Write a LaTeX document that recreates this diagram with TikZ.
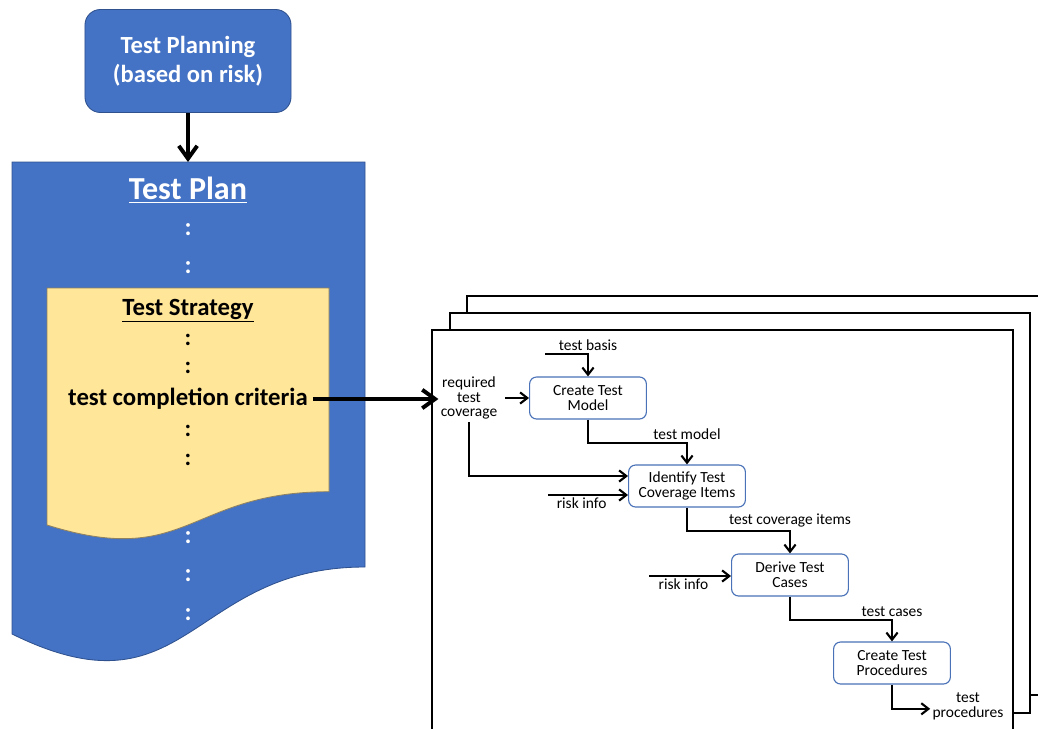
\documentclass[tikz,border=0pt]{standalone}
\usepackage{fontspec}
\setmainfont{Carlito}
\usetikzlibrary{arrows.meta,positioning,calc}
\definecolor{planblue}{HTML}{4472C4}
\definecolor{planedge}{HTML}{2F528F}
\definecolor{strat}{HTML}{FFE699}
\definecolor{stratedge}{HTML}{8F8260}
\definecolor{stepedge}{HTML}{4A72B8}
\newcommand{\PlanTop}{162}
\newcommand{\StratTop}{288}

\begin{document}
\begin{tikzpicture}[
    x=0.025cm, y=-0.025cm,
    bigedge/.style={-{Straight Barb[length=3.2mm,width=4.6mm]}, line width=2.8pt},
    flow/.style={-{Straight Barb[length=1.8mm,width=2.8mm]}, line width=1.5pt},
    frame/.style={draw=black, line width=1.3pt, fill=white},
    planning/.style={draw=planedge, line width=0.6pt, fill=planblue, rounded corners=11pt, minimum width=5.15cm, minimum height=2.575cm, align=center, text=white, font=\bfseries\fontsize{17.5}{20.5}\selectfont},
    stepbox/.style={draw=stepedge, line width=0.8pt, fill=white, rounded corners=5pt, minimum width=2.92cm, minimum height=1.05cm, align=center, font=\fontsize{11}{10.8}\selectfont},
    lbl/.style={font=\fontsize{11}{10.6}\selectfont, inner sep=1.5pt, align=center},
    wdots/.style={text=white, font=\bfseries\fontsize{18}{18}\selectfont, inner sep=0pt},
    bdots/.style={text=black, font=\bfseries\fontsize{17}{17}\selectfont, inner sep=0pt},
  ]
\useasboundingbox (0,0) rectangle (1038,729);
\clip (0,0) rectangle (1038,729);

% --- Planning, and the plan it writes ----------------------------------------
\node[planning] (planning) at (188,61) {Test Planning\\(based on risk)};
\coordinate (plantop) at (188,\PlanTop);
\draw[fill=planblue, draw=planedge, line width=0.6pt]
  (12,\PlanTop) -- (365,\PlanTop) -- (365,567) .. controls (188.5,567) and (188.5,721) .. (12,634) -- cycle;
\draw[bigedge] (planning.south) -- (plantop);
\node[text=white, font=\bfseries\fontsize{22.8}{24}\selectfont] (plantitle) at (188,190) {\underline{Test Plan}};

% --- The strategy inside the plan --------------------------------------------
\draw[fill=strat, draw=stratedge, line width=0.6pt]
  (47,\StratTop) -- (329,\StratTop) -- (329,491.7) .. controls (188,491.7) and (188,569.3) .. (47,525) -- cycle;
\node[font=\bfseries\fontsize{17.6}{19}\selectfont] (strattitle) at (188,311) {\underline{Test Strategy}};
\node[font=\bfseries\fontsize{17.6}{19}\selectfont] (crit) at (188,399) {test completion criteria};

\foreach \y [count=\k] in {230,268,538,576,615}
  \node[wdots] (wd\k) at (188,\y) {:};
\foreach \y [count=\k] in {340,368,431,460}
  \node[bdots] (bd\k) at (188,\y) {:};

% --- The stack of process pages ---------------------------------------------
\draw[frame] (467,296) rectangle (1047,695);
\draw[frame] (450,313) rectangle (1030,713);
\draw[frame] (432,330) rectangle (1013,745);

\foreach \n/\x/\y/\txt in {model/588/398/{Create Test\\Model}, items/687/486/{Identify Test\\Coverage Items}, cases/790/575/{Derive Test\\Cases}, procs/892/663/{Create Test\\Procedures}}
  \node[stepbox] (\n) at (\x,\y) {\txt};

\node[lbl] (reqcov) at (469,398) {required\\test\\coverage};
\node[lbl] (tproc) at (968,706) {test\\procedures};
\coordinate (basisin) at (545,354);
\coordinate (risk1) at (548,495);
\coordinate (risk2) at (649,576);

\draw[bigedge] (crit.east) -- (crit.east -| reqcov.west);

% --- Flows between the steps -------------------------------------------------
\draw[flow] (basisin) -| (model.north) node[pos=0.5, above, lbl] {test basis};
\draw[flow] ([xshift=4pt]reqcov.east) -- (model.west);
\draw[flow] (reqcov.south) |- ($(items.west)+(0,-10)$);
\draw[flow] (model.south) -- ++(0,23) -| (items.north) node[pos=0.5, above, lbl] {test model};
\draw[flow] (risk1) -- (risk1 -| items.west) node[pos=0.42, below, lbl] {risk info};
\draw[flow] (items.south) -- ++(0,23) -| (cases.north) node[pos=0.5, above, lbl] {test coverage items};
\draw[flow] (risk2) -- (risk2 -| cases.west) node[pos=0.42, below, lbl] {risk info};
\draw[flow] (cases.south) -- ++(0,23) -| (procs.north) node[pos=0.5, above, lbl] {test cases};
\draw[flow] (procs.south) |- ([yshift=-2pt]tproc.west);

\end{tikzpicture}
\end{document}
